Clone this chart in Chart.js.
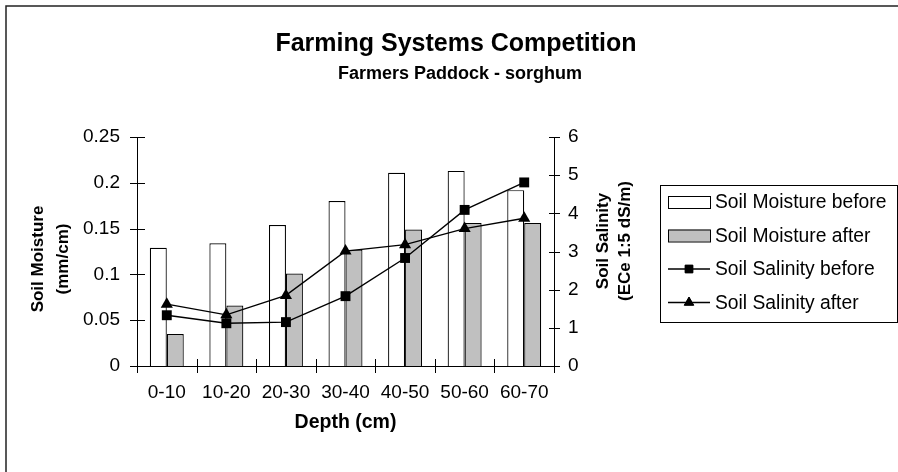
<!DOCTYPE html>
<html>
<head>
<meta charset="utf-8">
<script src="https://cdn.jsdelivr.net/npm/chart.js@4/dist/chart.umd.min.js"></script>
<style>
  html, body { margin: 0; padding: 0; background: #fff; }
  canvas { display: block; }
</style>
</head>
<body>
<canvas id="chart" width="898" height="472"></canvas>
<script>
// Sampling depths and measured values
const depths = ['0-10', '10-20', '20-30', '30-40', '40-50', '50-60', '60-70'];
const moistureBefore = [0.129, 0.134, 0.154, 0.180, 0.211, 0.213, 0.192];
const moistureAfter  = [0.035, 0.066, 0.101, 0.127, 0.149, 0.156, 0.156];
const salinityBefore = [1.33, 1.12, 1.15, 1.83, 2.83, 4.09, 4.81];
const salinityAfter  = [1.62, 1.34, 1.85, 3.01, 3.18, 3.60, 3.87];

// Axis tick labels
const moistureTicks = ['0', '0.05', '0.1', '0.15', '0.2', '0.25'];
const salinityTicks = ['0', '1', '2', '3', '4', '5', '6'];

// Text
const titleText = 'Farming Systems Competition';
const subtitleText = 'Farmers Paddock - sorghum';
const xTitle = 'Depth (cm)';
const leftTitle = ['Soil Moisture', '(mm/cm)'];
const rightTitle = ['Soil Salinity', '(ECe 1:5 dS/m)'];

const FAMILY = '"Liberation Sans", Arial, Helvetica, sans-serif';

function drawText(ctx, text, x, y, font, opts = {}) {
  ctx.save();
  ctx.font = font;
  ctx.fillStyle = '#000';
  ctx.textAlign = opts.align || 'center';
  ctx.textBaseline = opts.baseline || 'alphabetic';
  ctx.translate(x, y);
  if (opts.rotate) ctx.rotate(opts.rotate);
  ctx.fillText(text, 0, 0);
  ctx.restore();
}

// White page with the outer frame line along the top and left
const frame = {
  id: 'frame',
  beforeDraw(chart) {
    const ctx = chart.ctx;
    ctx.save();
    ctx.fillStyle = '#fff';
    ctx.fillRect(0, 0, chart.width, chart.height);
    ctx.strokeStyle = '#222';
    ctx.lineWidth = 1.5;
    ctx.strokeRect(6, 6, chart.width + 20, chart.height + 20);
    ctx.restore();
  }
};

// Titles and axis titles
const labels = {
  id: 'labels',
  afterDraw(chart) {
    const ctx = chart.ctx;
    const a = chart.chartArea;
    drawText(ctx, titleText, 456, 51, 'bold 25px ' + FAMILY);
    drawText(ctx, subtitleText, 460, 79, 'bold 18px ' + FAMILY);
    drawText(ctx, xTitle, (a.left + a.right) / 2, 423, 'bold 19.5px ' + FAMILY, { baseline: 'middle' });
    const f = 'bold 17px ' + FAMILY;
    drawText(ctx, leftTitle[0], 38, 259, f, { rotate: -Math.PI / 2, baseline: 'middle' });
    drawText(ctx, leftTitle[1], 63, 259, f, { rotate: -Math.PI / 2, baseline: 'middle' });
    drawText(ctx, rightTitle[0], 603, 241, f, { rotate: -Math.PI / 2, baseline: 'middle' });
    drawText(ctx, rightTitle[1], 625, 241, f, { rotate: -Math.PI / 2, baseline: 'middle' });
  }
};

// Tick marks that cross the axis lines
const crossTicks = {
  id: 'crossTicks',
  afterDraw(chart) {
    const ctx = chart.ctx;
    const a = chart.chartArea;
    const { x, y, y1 } = chart.scales;
    ctx.save();
    ctx.strokeStyle = '#000';
    ctx.lineWidth = 1;
    ctx.beginPath();
    y.ticks.forEach(t => {
      const py = Math.round(y.getPixelForValue(t.value)) + 0.5;
      ctx.moveTo(a.left - 7, py); ctx.lineTo(a.left + 8, py);
    });
    y1.ticks.forEach(t => {
      const py = Math.round(y1.getPixelForValue(t.value)) + 0.5;
      ctx.moveTo(a.right - 5, py); ctx.lineTo(a.right + 6, py);
    });
    for (let i = 0; i <= depths.length; i++) {
      const px = Math.round(x.getPixelForValue(i - 0.5)) + 0.5;
      ctx.moveTo(px, a.bottom - 7); ctx.lineTo(px, a.bottom + 7);
    }
    ctx.stroke();
    ctx.restore();
  }
};

// Boxed legend with bar swatches and line-with-marker samples
const boxLegend = {
  id: 'boxLegend',
  afterDraw(chart) {
    const ctx = chart.ctx;
    const o = chart.options.plugins.boxLegend;
    ctx.save();
    ctx.strokeStyle = '#000';
    ctx.lineWidth = 1;
    ctx.strokeRect(o.left + 0.5, o.top + 0.5, o.width, o.height);
    ctx.font = o.fontSize + 'px ' + FAMILY;
    ctx.textBaseline = 'middle';
    ctx.textAlign = 'left';
    chart.data.datasets.forEach((ds, i) => {
      const cy = o.firstRow + i * o.rowGap;
      const sx = o.left + 8;
      if (ds.type === 'bar') {
        ctx.fillStyle = ds.backgroundColor;
        ctx.fillRect(sx, cy - 6, o.sample, 12);
        ctx.strokeStyle = '#000';
        ctx.strokeRect(sx + 0.5, cy - 6 + 0.5, o.sample, 12);
      } else {
        ctx.strokeStyle = ds.borderColor;
        ctx.lineWidth = ds.borderWidth;
        ctx.beginPath();
        ctx.moveTo(sx, cy); ctx.lineTo(sx + o.sample, cy);
        ctx.stroke();
        ctx.lineWidth = 1;
        Chart.helpers.drawPoint(ctx, {
          pointStyle: ds.pointStyle, radius: ds.pointRadius - 1.5, rotation: 0, borderWidth: 1
        }, sx + o.sample / 2, cy);
        ctx.fillStyle = ds.pointBackgroundColor;
        ctx.fill();
      }
      ctx.fillStyle = '#000';
      ctx.fillText(ds.label, sx + o.sample + 5, cy + 1);
    });
    ctx.restore();
  }
};

const tickFont = { family: FAMILY, size: 19 };

new Chart(document.getElementById('chart'), {
  type: 'bar',
  data: {
    labels: depths,
    datasets: [
      {
        type: 'bar', label: 'Soil Moisture before', data: moistureBefore, yAxisID: 'y',
        backgroundColor: '#ffffff', borderColor: '#000', borderWidth: 1.2,
        categoryPercentage: 0.57, barPercentage: 1.0, order: 2
      },
      {
        type: 'bar', label: 'Soil Moisture after', data: moistureAfter, yAxisID: 'y',
        backgroundColor: '#c0c0c0', borderColor: '#000', borderWidth: 1.2,
        categoryPercentage: 0.57, barPercentage: 1.0, order: 2
      },
      {
        type: 'line', label: 'Soil Salinity before', data: salinityBefore, yAxisID: 'y1',
        borderColor: '#000', borderWidth: 1.4, backgroundColor: '#000',
        pointStyle: 'rect', pointRadius: 7, pointBackgroundColor: '#000', pointBorderColor: '#000',
        pointBorderWidth: 0, tension: 0, fill: false, order: 1
      },
      {
        type: 'line', label: 'Soil Salinity after', data: salinityAfter, yAxisID: 'y1',
        borderColor: '#000', borderWidth: 1.4, backgroundColor: '#000',
        pointStyle: 'triangle', pointRadius: 7, pointBackgroundColor: '#000', pointBorderColor: '#000',
        pointBorderWidth: 0, tension: 0, fill: false, order: 1
      }
    ]
  },
  options: {
    responsive: false,
    animation: false,
    devicePixelRatio: 1,
    layout: { padding: { top: 137, left: 0, right: 0, bottom: 0 } },
    plugins: {
      legend: { display: false },
      title: { display: false },
      tooltip: { enabled: false },
      boxLegend: { left: 660, top: 185, width: 237, height: 137, firstRow: 202, rowGap: 33.5, sample: 42, fontSize: 19.3 }
    },
    scales: {
      x: {
        type: 'category', offset: true,
        grid: { display: false, drawTicks: false },
        border: { display: true, color: '#000', width: 1 },
        ticks: { color: '#000', font: tickFont, padding: 15, maxRotation: 0, autoSkip: false },
        afterFit(s) { s.height = 106; }
      },
      y: {
        position: 'left', min: 0, max: 0.25,
        grid: { display: false, drawTicks: false },
        border: { display: true, color: '#000', width: 1 },
        ticks: { stepSize: 0.05, color: '#000', font: tickFont, padding: 17,
                 callback: (v, i) => moistureTicks[i] },
        afterFit(s) { s.width = 137; }
      },
      y1: {
        position: 'right', min: 0, max: 6,
        grid: { display: false, drawTicks: false },
        border: { display: true, color: '#000', width: 1 },
        ticks: { stepSize: 1, color: '#000', font: tickFont, padding: 14,
                 callback: (v, i) => salinityTicks[i] },
        afterFit(s) { s.width = 344; }
      }
    }
  },
  plugins: [frame, crossTicks, labels, boxLegend]
});
</script>
</body>
</html>
